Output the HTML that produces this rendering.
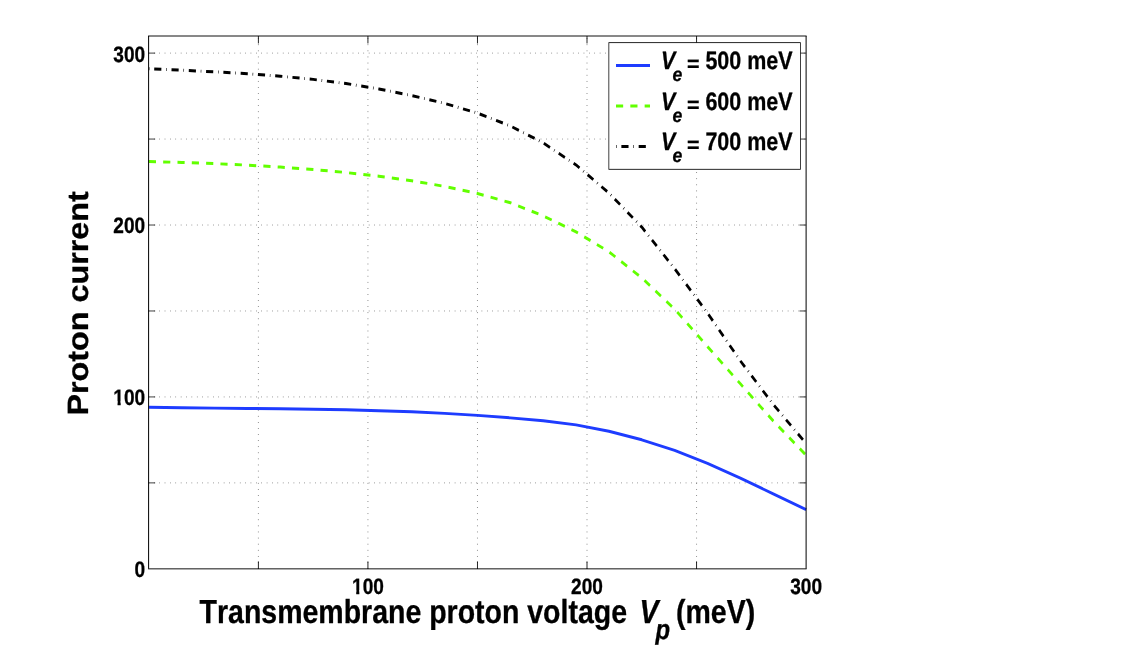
<!DOCTYPE html>
<html><head><meta charset="utf-8"><title>Proton current vs transmembrane proton voltage</title>
<style>html,body{margin:0;padding:0;background:#fff;overflow:hidden}svg{display:block;will-change:transform}text{stroke:#000;stroke-width:0.3px;stroke-linejoin:round;font-kerning:none;font-variant-ligatures:none;text-rendering:geometricPrecision}</style></head><body>
<svg width="1144" height="654" viewBox="0 0 1144 654">
<rect width="1144" height="654" fill="#fff"/>
<g transform="scale(0.882,1)">
<g stroke="#000" stroke-width="0.676" stroke-dasharray="0.68 5.41" fill="none">
<path d="M292.96,568.85 V36.0"/>
<path d="M417.16,568.85 V36.0"/>
<path d="M541.35,568.85 V36.0"/>
<path d="M665.55,568.85 V36.0"/>
<path d="M789.75,568.85 V36.0"/>
<path d="M168.48,482.89 H913.95"/>
<path d="M168.48,396.93 H913.95"/>
<path d="M168.48,310.98 H913.95"/>
<path d="M168.48,225.02 H913.95"/>
<path d="M168.48,139.06 H913.95"/>
<path d="M168.48,53.10 H913.95"/>
</g>
<g fill="none" stroke-width="2.95" stroke-linejoin="round">
<path d="M168.76,407.30 L206.02,407.76 L243.28,408.12 L280.54,408.43 L317.80,408.77 L355.06,409.22 L392.32,409.83 L429.58,410.68 L466.84,411.84 L504.10,413.38 L541.35,415.37 L578.61,417.86 L615.87,420.84 L653.13,424.89 L690.39,431.31 L727.65,439.80 L764.91,450.42 L802.17,463.33 L839.43,478.09 L876.69,493.88 L913.95,509.61" stroke="#1e3cff"/>
<path d="M168.76,161.51 L206.02,162.45 L243.28,163.63 L280.54,165.15 L317.80,167.07 L355.06,169.50 L392.32,172.52 L429.58,176.20 L466.84,180.73 L504.10,186.40 L541.35,193.51 L578.61,202.71 L615.87,215.86 L653.13,231.86 L690.39,251.76 L727.65,277.90 L764.91,309.11 L802.17,346.62 L839.43,383.82 L876.69,420.91 L913.95,455.20" stroke="#62ff00" stroke-dasharray="8.12 8.12"/>
<path d="M168.76,68.70 L206.02,70.21 L243.28,71.82 L280.54,73.74 L317.80,76.20 L355.06,79.40 L392.32,83.57 L429.58,88.93 L466.84,95.55 L504.10,103.38 L541.35,113.12 L578.61,125.94 L615.87,142.88 L653.13,164.93 L690.39,192.95 L727.65,227.10 L764.91,268.69 L802.17,313.00 L839.43,360.88 L876.69,404.43 L913.95,443.50" stroke="#000" stroke-dasharray="0.68 5.41 8.12 5.41"/>
</g>
<g fill="none" stroke="#000">
<path stroke-width="0.8" d="M168.48,482.89 h7.45 M913.95,482.89 h-7.45 M168.48,396.93 h7.45 M913.95,396.93 h-7.45 M168.48,310.98 h7.45 M913.95,310.98 h-7.45 M168.48,225.02 h7.45 M913.95,225.02 h-7.45 M168.48,139.06 h7.45 M913.95,139.06 h-7.45 M168.48,53.10 h7.45 M913.95,53.10 h-7.45"/>
<path stroke-width="0.907" d="M292.96,568.85 v-7.45 M292.96,36.0 v7.45 M417.16,568.85 v-7.45 M417.16,36.0 v7.45 M541.35,568.85 v-7.45 M541.35,36.0 v7.45 M665.55,568.85 v-7.45 M665.55,36.0 v7.45 M789.75,568.85 v-7.45 M789.75,36.0 v7.45"/>
<path stroke-width="1.0" d="M167.91,36.0 H914.51 M167.91,568.85 H914.51"/>
<path stroke-width="1.134" d="M168.48,36.0 V568.85 M913.95,36.0 V568.85"/>
</g>
<defs><clipPath id="one"><path d="M-2,-21.65 H21.65 V-3.680 H8.273 V2.16 H4.803 V-3.680 H-2 Z"/></clipPath></defs>
<text transform="translate(152.59,577.00) scale(1,1.03)" font-family="Liberation Sans, sans-serif" font-weight="bold" font-size="21.65" fill="#000">0</text>
<text transform="translate(128.51,405.00) scale(1,1.03)" font-family="Liberation Sans, sans-serif" font-weight="bold" font-size="21.65" fill="#000" clip-path="url(#one)">1</text><text transform="translate(140.55,405.00) scale(1,1.03)" font-family="Liberation Sans, sans-serif" font-weight="bold" font-size="21.65" fill="#000">00</text>
<text transform="translate(128.51,233.00) scale(1,1.03)" font-family="Liberation Sans, sans-serif" font-weight="bold" font-size="21.65" fill="#000">200</text>
<text transform="translate(128.51,62.00) scale(1,1.03)" font-family="Liberation Sans, sans-serif" font-weight="bold" font-size="21.65" fill="#000">300</text>
<text transform="translate(399.10,594.00) scale(1,1.03)" font-family="Liberation Sans, sans-serif" font-weight="bold" font-size="21.65" fill="#000" clip-path="url(#one)">1</text><text transform="translate(411.14,594.00) scale(1,1.03)" font-family="Liberation Sans, sans-serif" font-weight="bold" font-size="21.65" fill="#000">00</text>
<text transform="translate(647.49,594.00) scale(1,1.03)" font-family="Liberation Sans, sans-serif" font-weight="bold" font-size="21.65" fill="#000">200</text>
<text transform="translate(895.89,594.00) scale(1,1.03)" font-family="Liberation Sans, sans-serif" font-weight="bold" font-size="21.65" fill="#000">300</text>
<rect x="690.31" y="42.65" width="217.29" height="126.65" fill="#fff" stroke="#000" stroke-width="0.85"/>
<path d="M698.41,65.4 H736.96" fill="none" stroke="#1e3cff" stroke-width="2.95"/>
<text transform="translate(749.43,69.00) scale(1,1.03)" font-family="Liberation Sans, sans-serif" font-weight="bold" font-size="24.35" text-anchor="start" fill="#000" font-style="italic">V</text>
<text transform="translate(762.36,81.00) scale(1,0.98)" font-family="Liberation Sans, sans-serif" font-weight="bold" font-size="19.97" text-anchor="start" fill="#000" font-style="italic">e</text>
<text transform="translate(778.80,71.00) scale(1,0.89)" font-family="Liberation Sans, sans-serif" font-weight="bold" font-size="24.35" text-anchor="start" fill="#000">=</text>
<text transform="translate(799.79,69.00) scale(1,1.03)" font-family="Liberation Sans, sans-serif" font-weight="bold" font-size="24.35" text-anchor="start" fill="#000">500 meV</text>
<path d="M698.41,106.05 H736.96" fill="none" stroke="#62ff00" stroke-width="2.95" stroke-dasharray="8.12 8.12"/>
<text transform="translate(749.43,110.00) scale(1,1.03)" font-family="Liberation Sans, sans-serif" font-weight="bold" font-size="24.35" text-anchor="start" fill="#000" font-style="italic">V</text>
<text transform="translate(762.36,122.00) scale(1,0.98)" font-family="Liberation Sans, sans-serif" font-weight="bold" font-size="19.97" text-anchor="start" fill="#000" font-style="italic">e</text>
<text transform="translate(778.80,112.00) scale(1,0.89)" font-family="Liberation Sans, sans-serif" font-weight="bold" font-size="24.35" text-anchor="start" fill="#000">=</text>
<text transform="translate(799.79,110.00) scale(1,1.03)" font-family="Liberation Sans, sans-serif" font-weight="bold" font-size="24.35" text-anchor="start" fill="#000">600 meV</text>
<path d="M698.41,146.5 H736.96" fill="none" stroke="#000" stroke-width="2.95" stroke-dasharray="0.68 5.41 8.12 5.41"/>
<text transform="translate(749.43,150.00) scale(1,1.03)" font-family="Liberation Sans, sans-serif" font-weight="bold" font-size="24.35" text-anchor="start" fill="#000" font-style="italic">V</text>
<text transform="translate(762.36,162.00) scale(1,0.98)" font-family="Liberation Sans, sans-serif" font-weight="bold" font-size="19.97" text-anchor="start" fill="#000" font-style="italic">e</text>
<text transform="translate(778.80,152.00) scale(1,0.89)" font-family="Liberation Sans, sans-serif" font-weight="bold" font-size="24.35" text-anchor="start" fill="#000">=</text>
<text transform="translate(799.79,150.00) scale(1,1.03)" font-family="Liberation Sans, sans-serif" font-weight="bold" font-size="24.35" text-anchor="start" fill="#000">700 meV</text>
<text transform="translate(226.30,623.00) scale(1,1.03)" font-family="Liberation Sans, sans-serif" font-weight="bold" font-size="32.31" text-anchor="start" fill="#000">Transmembrane proton voltage</text>
<text transform="translate(724.94,623.00) scale(1,1.03)" font-family="Liberation Sans, sans-serif" font-weight="bold" font-size="32.31" text-anchor="start" fill="#000" font-style="italic">V</text>
<text transform="translate(743.08,639.00) scale(1,1.03)" font-family="Liberation Sans, sans-serif" font-weight="bold" font-size="27.14" text-anchor="start" fill="#000" font-style="italic">p</text>
<text transform="translate(766.44,623.00) scale(1,1.03)" font-family="Liberation Sans, sans-serif" font-weight="bold" font-size="32.31" text-anchor="start" fill="#000">(meV)</text>
<text transform="translate(99.77,303.4) rotate(-90) scale(1,1.03)" font-family="Liberation Sans, sans-serif" font-weight="bold" font-size="32.31" text-anchor="middle" fill="#000">Proton current</text>
</g></svg></body></html>
